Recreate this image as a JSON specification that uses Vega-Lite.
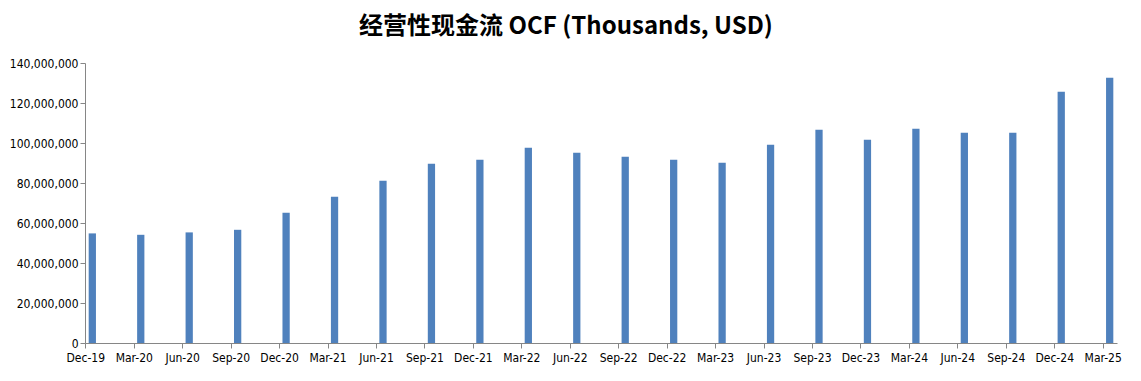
{
  "$schema": "https://vega.github.io/schema/vega-lite/v6.json",
  "autosize": "none",
  "width": 1032,
  "height": 280,
  "padding": {"left": 85, "top": 63, "right": 24, "bottom": 38},
  "background": "white",
  "title": {
    "text": "经营性现金流 OCF (Thousands, USD)",
    "font": "Noto Sans CJK SC",
    "fontSize": 24,
    "fontWeight": "bold",
    "color": "#000000",
    "anchor": "middle",
    "dx": -35,
    "offset": 18
  },
  "data": {
    "values": [
      {"period": "Dec-19", "ocf": 54800000},
      {"period": "Mar-20", "ocf": 54100000},
      {"period": "Jun-20", "ocf": 55300000},
      {"period": "Sep-20", "ocf": 56600000},
      {"period": "Dec-20", "ocf": 65100000},
      {"period": "Mar-21", "ocf": 73100000},
      {"period": "Jun-21", "ocf": 81100000},
      {"period": "Sep-21", "ocf": 89600000},
      {"period": "Dec-21", "ocf": 91600000},
      {"period": "Mar-22", "ocf": 97600000},
      {"period": "Jun-22", "ocf": 95100000},
      {"period": "Sep-22", "ocf": 93100000},
      {"period": "Dec-22", "ocf": 91600000},
      {"period": "Mar-23", "ocf": 90100000},
      {"period": "Jun-23", "ocf": 99100000},
      {"period": "Sep-23", "ocf": 106600000},
      {"period": "Dec-23", "ocf": 101600000},
      {"period": "Mar-24", "ocf": 107100000},
      {"period": "Jun-24", "ocf": 105100000},
      {"period": "Sep-24", "ocf": 105100000},
      {"period": "Dec-24", "ocf": 125600000},
      {"period": "Mar-25", "ocf": 132600000}
    ]
  },
  "mark": {"type": "bar", "color": "#4F81BD"},
  "encoding": {
    "x": {
      "field": "period",
      "type": "ordinal",
      "sort": null,
      "scale": {"paddingInner": 0.85, "paddingOuter": 0.076},
      "axis": {
        "title": null,
        "labelAngle": 0,
        "labelFont": "DejaVu Sans Condensed",
        "labelFontSize": 12,
        "labelColor": "#000000",
        "labelPadding": 4,
        "domainColor": "#868686",
        "tickColor": "#868686",
        "tickSize": 5,
        "tickOffset": -7,
        "ticks": true
      }
    },
    "y": {
      "field": "ocf",
      "type": "quantitative",
      "scale": {"domain": [0, 140000000], "nice": false},
      "axis": {
        "title": null,
        "values": [0, 20000000, 40000000, 60000000, 80000000, 100000000, 120000000, 140000000],
        "format": ",.0f",
        "grid": false,
        "labelFont": "DejaVu Sans Condensed",
        "labelFontSize": 12,
        "labelColor": "#000000",
        "labelPadding": 2,
        "domainColor": "#868686",
        "tickColor": "#868686",
        "tickSize": 5
      }
    }
  },
  "config": {"view": {"stroke": null}}
}
